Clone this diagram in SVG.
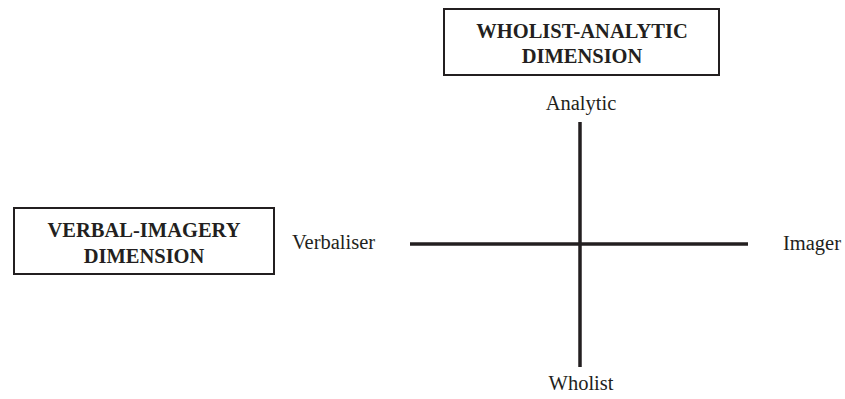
<svg xmlns="http://www.w3.org/2000/svg" width="845" height="399" viewBox="0 0 845 399">
<style>
.box{fill:#fff;stroke:#231f20;stroke-width:2}
.t{font-family:"Liberation Serif","Times New Roman",serif;font-size:20.5px;fill:#231f20}
.b{font-weight:bold;text-anchor:middle}
.axis{stroke:#231f20;stroke-width:3.5;fill:none}
</style>
<rect width="845" height="399" fill="#fff"/>
<g id="wholist-analytic">
<rect class="box" x="444" y="9" width="275" height="66"/>
<text class="t b" x="582" y="38">WHOLIST-ANALYTIC</text>
<text class="t b" x="582" y="63">DIMENSION</text>
</g>
<g id="verbal-imagery">
<rect class="box" x="14" y="208" width="260" height="66"/>
<text class="t b" x="144" y="237">VERBAL-IMAGERY</text>
<text class="t b" x="144" y="263">DIMENSION</text>
</g>
<g id="connectors">
<line class="axis" x1="580" y1="122" x2="580" y2="367"/>
<line class="axis" x1="410" y1="244" x2="748" y2="244"/>
</g>
<g id="labels">
<text class="t" x="581" y="110" text-anchor="middle">Analytic</text>
<text class="t" x="581" y="390" text-anchor="middle">Wholist</text>
<text class="t" x="292" y="249">Verbaliser</text>
<text class="t" x="783" y="250">Imager</text>
</g>
</svg>
